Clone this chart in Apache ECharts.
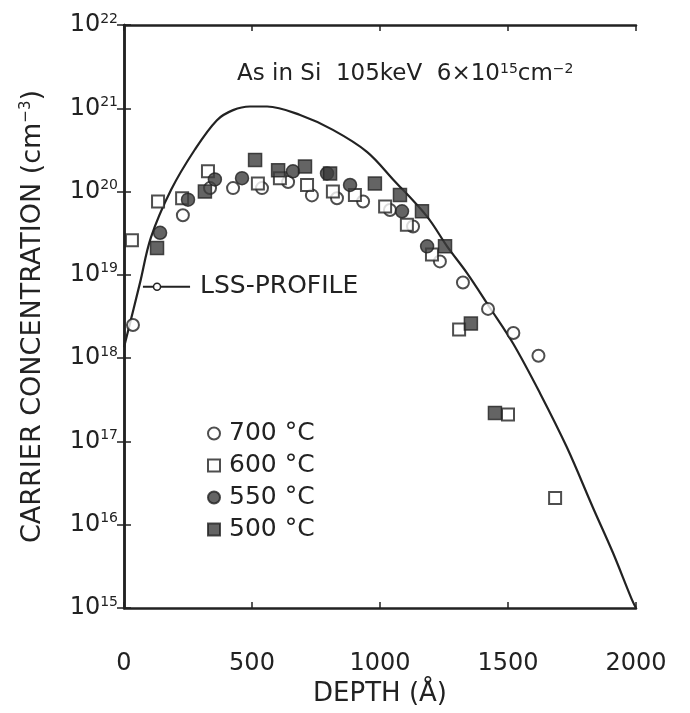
<!DOCTYPE html>
<html>
<head>
<meta charset="utf-8">
<script src="https://cdn.jsdelivr.net/npm/echarts@6/dist/echarts.min.js"></script>
<style>
  html, body { margin: 0; padding: 0; background: #fff; }
  #chart { width: 690px; height: 713px; }
</style>
</head>
<body>
<div id="chart"></div>
<script>
// LSS theoretical profile [depth (Å), concentration (cm^-3)]
const lssProfile = [
  [0, 1.35e18], [62, 7.9e18], [105, 2.8e19], [184, 1.05e20], [277, 3.2e20],
  [363, 7.2e20], [426, 9.5e20], [492, 1.05e21], [559, 1.05e21], [688, 8.3e20],
  [816, 5.5e20], [949, 3.0e20], [1051, 1.4e20], [1184, 5.0e19], [1262, 2.2e19],
  [1340, 1.05e19], [1430, 4.0e18], [1520, 1.5e18], [1625, 3.8e17], [1730, 8.5e16],
  [1832, 1.6e16], [1910, 4.6e15], [1984, 1.26e15], [2000, 1.0e15]
];

// measured carrier concentrations per anneal temperature
const t700 = [
  [35, 2.5e18], [230, 5.2e19], [336, 1.1e20], [426, 1.1e20], [539, 1.1e20],
  [641, 1.3e20], [734, 9e19], [832, 8.3e19], [934, 7.6e19], [1039, 6e19],
  [1129, 3.8e19], [1234, 1.45e19], [1324, 8.1e18], [1422, 3.9e18], [1521, 2.0e18],
  [1619, 1.07e18]
];
const t600 = [
  [31, 2.6e19], [133, 7.6e19], [227, 8.3e19], [328, 1.75e20], [523, 1.25e20],
  [609, 1.45e20], [715, 1.2e20], [816, 1.0e20], [902, 9.1e19], [1020, 6.6e19],
  [1105, 4.0e19], [1203, 1.75e19], [1309, 2.2e18], [1500, 2.1e17], [1684, 2.1e16]
];
const t550 = [
  [141, 3.2e19], [250, 8e19], [355, 1.4e20], [461, 1.45e20], [660, 1.75e20],
  [793, 1.65e20], [883, 1.2e20], [1086, 5.8e19], [1184, 2.2e19]
];
const t500 = [
  [129, 2.1e19], [316, 1.0e20], [512, 2.4e20], [602, 1.8e20], [707, 2.0e20],
  [805, 1.65e20], [980, 1.25e20], [1078, 9.1e19], [1164, 5.8e19], [1254, 2.2e19],
  [1355, 2.6e18], [1449, 2.2e17]
];

// pointer to the LSS curve: start, small circle, end
const lssPointer = [[74, 7.2e18], [129, 7.2e18], [258, 7.2e18]];

const xTicks = [0, 500, 1000, 1500, 2000];
const legendNames = ['700 °C', '600 °C', '550 °C', '500 °C'];

const ink = '#222';
const font = 'DejaVu Sans';
const fill = '#3d3d3d';

let myChart = echarts.init(document.getElementById('chart'));

const baseX = {
  type: 'value', min: 0, max: 2000, interval: 500,
  axisLine: { lineStyle: { color: ink, width: 2.5 } },
  axisTick: { inside: true, length: 6, lineStyle: { color: ink, width: 1.5 } },
  splitLine: { show: false }
};
const baseY = {
  type: 'log', logBase: 10, min: 1e15, max: 1e22,
  axisLine: { lineStyle: { color: ink, width: 2.5 } },
  axisTick: { inside: true, length: 7, lineStyle: { color: ink, width: 1.5 } },
  minorTick: { show: false },
  splitLine: { show: false }
};

myChart.setOption({
  animation: false,
  textStyle: { fontFamily: font, color: ink },
  grid: { left: 124, right: 54, top: 25, bottom: 105 },
  title: {
    text: 'As in Si  105keV  6×10{s|15}cm{s|−2}',
    left: 232, top: 57,
    textStyle: {
      fontFamily: font, fontSize: 23, fontWeight: 'normal', color: ink,
      rich: { s: { fontSize: 14, verticalAlign: 'top', fontFamily: font, color: ink, padding: [0, 0, 10, 0] } }
    }
  },
  legend: {
    orient: 'vertical', left: 202, top: 416, itemGap: 7,
    itemWidth: 12, itemHeight: 12,
    data: legendNames,
    textStyle: { fontFamily: font, fontSize: 25, color: ink, padding: [0, 0, 0, 4] }
  },
  xAxis: [
    Object.assign({}, baseX, {
      position: 'bottom',
      name: 'DEPTH (Å)', nameLocation: 'middle', nameGap: 71,
      nameTextStyle: { fontFamily: font, fontSize: 26, color: ink },
      axisLabel: {
        margin: 44, fontSize: 24, color: ink, fontFamily: font,
        formatter: v => xTicks.indexOf(v) >= 0 ? String(v) : ''
      }
    }),
    Object.assign({}, baseX, { position: 'top', axisLabel: { show: false } })
  ],
  yAxis: [
    Object.assign({}, baseY, {
      position: 'left',
      name: 'CARRIER CONCENTRATION (cm{s|−3})', nameLocation: 'middle', nameGap: 78, nameRotate: 90,
      nameTextStyle: {
        fontFamily: font, fontSize: 27, color: ink,
        rich: { s: { fontSize: 15, verticalAlign: 'top', padding: [0, 0, 12, 0], fontFamily: font, color: ink } }
      },
      axisLabel: {
        margin: 6, color: ink, fontFamily: font, fontSize: 24,
        formatter: v => '10{s|' + Math.round(Math.log10(v)) + '}',
        rich: {
          s: { fontSize: 14, verticalAlign: 'top', padding: [0, 0, 12, 0], fontFamily: font, color: ink }
        }
      }
    }),
    Object.assign({}, baseY, { position: 'right', axisLabel: { show: false } })
  ],
  series: [
    {
      name: 'LSS', type: 'line', data: lssProfile, smooth: 0.35,
      showSymbol: false, silent: true,
      lineStyle: { color: ink, width: 2.2 }, z: 1
    },
    {
      name: 'pointer', type: 'line', silent: true,
      data: [
        { value: lssPointer[0], symbol: 'none' },
        { value: lssPointer[1], symbol: 'circle', symbolSize: 7 },
        { value: lssPointer[2], symbol: 'none' }
      ],
      showSymbol: true,
      itemStyle: { color: '#fff', borderColor: ink, borderWidth: 1.5 },
      lineStyle: { color: ink, width: 1.8 },
      endLabel: {
        show: true, formatter: 'LSS-PROFILE', distance: 10,
        fontFamily: font, fontSize: 25, color: ink
      }
    },
    {
      name: legendNames[0], type: 'scatter', symbol: 'circle', symbolSize: 12, data: t700,
      itemStyle: { color: '#fff', borderColor: ink, borderWidth: 2 }, z: 3
    },
    {
      name: legendNames[1], type: 'scatter', symbol: 'rect', symbolSize: 12, data: t600,
      itemStyle: { color: '#fff', borderColor: ink, borderWidth: 2 }, z: 3
    },
    {
      name: legendNames[2], type: 'scatter', symbol: 'circle', symbolSize: 13, data: t550,
      itemStyle: { color: fill, borderColor: ink, borderWidth: 1.5 }, z: 4
    },
    {
      name: legendNames[3], type: 'scatter', symbol: 'rect', symbolSize: 13, data: t500,
      itemStyle: { color: fill, borderColor: ink, borderWidth: 1.5 }, z: 4
    }
  ]
});

window.addEventListener('resize', function() {
  myChart.resize();
});
</script>
</body>
</html>
